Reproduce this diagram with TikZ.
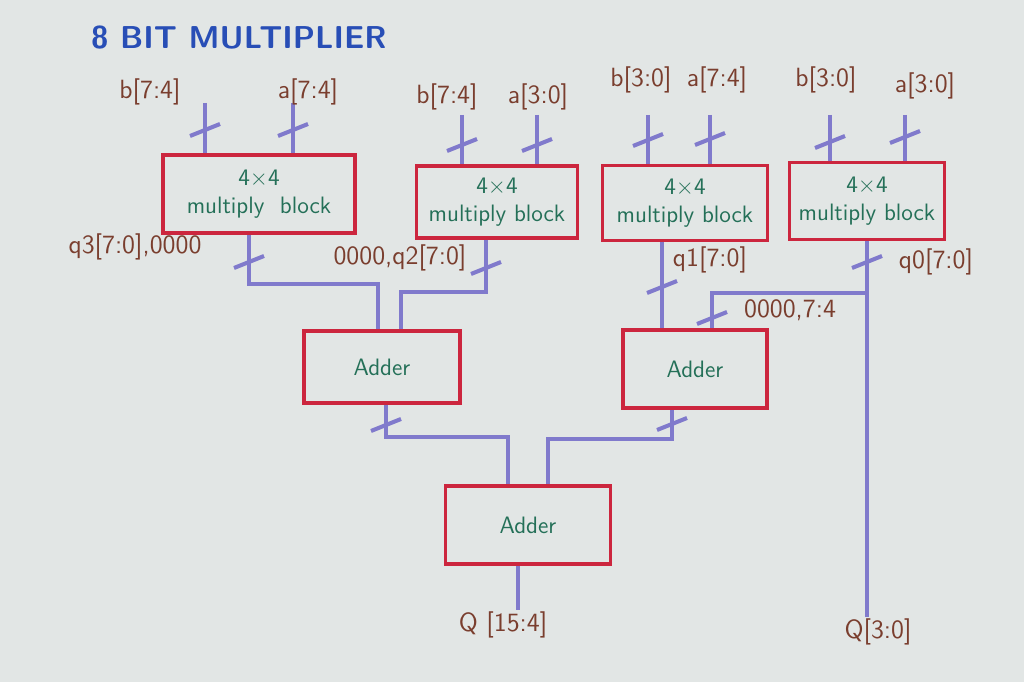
\documentclass[tikz,border=0pt]{standalone}
\usetikzlibrary{positioning}

\definecolor{paper}{RGB}{226,230,229}
\definecolor{boxred}{RGB}{204,38,62}
\definecolor{wireblue}{RGB}{128,122,204}
\definecolor{inkteal}{RGB}{36,112,88}
\definecolor{inkbrown}{RGB}{122,62,46}
\definecolor{titleblue}{RGB}{40,78,182}

\tikzset{
    block/.style={draw=boxred, line width=2.2pt, text=inkteal, font=\sffamily\fontsize{13.5}{16}\selectfont, align=center},
    wire/.style={draw=wireblue, line width=2.3pt},
    lbl/.style={text=inkbrown, font=\sffamily\fontsize{15}{17}\selectfont, inner sep=1pt},
}

\begin{document}
\begin{tikzpicture}
    \fill[paper] (0,0) rectangle (20.48,13.64);
    \useasboundingbox (0,0) rectangle (20.48,13.64);
    \node[text=titleblue, font=\sffamily\bfseries\fontsize{18}{20}\selectfont, anchor=west] (title) at (1.70,12.88) {8 BIT MULTIPLIER};
    % 4x4 乘法块
    \node[block, minimum width=3.84cm, minimum height=1.56cm] (m1) at (5.18,9.76) {4\texttimes4\\multiply\ \ block};
    \node[block, minimum width=3.22cm, minimum height=1.44cm] (m2) at (9.94,9.60) {4\texttimes4\\multiply block};
    \node[block, minimum width=3.30cm, minimum height=1.50cm] (m3) at (13.70,9.58) {4\texttimes4\\multiply block};
    \node[block, minimum width=3.10cm, minimum height=1.54cm] (m4) at (17.34,9.62) {4\texttimes4\\multiply block};
    % 加法器
    \node[block, minimum width=3.12cm, minimum height=1.44cm] (a1) at (7.64,6.30) {Adder};
    \node[block, minimum width=2.88cm, minimum height=1.56cm] (a2) at (13.90,6.26) {Adder};
    \node[block, minimum width=3.30cm, minimum height=1.56cm] (a3) at (10.56,3.14) {Adder};
    % 输入
    \foreach \n/\x/\y/\b in {ib1/4.10/11.58/m1, ia1/5.86/11.58/m1, ib2/9.24/11.34/m2, ia2/10.74/11.34/m2,
                             ib3/12.96/11.34/m3, ia3/14.20/11.34/m3, ib4/16.60/11.34/m4, ia4/18.10/11.34/m4} {
        \coordinate (\n) at (\x,\y);
        \draw[wire] (\n) -- (\n |- \b.north);
    }
    \node[lbl] (lb1) at (3.00,11.80) {b[7:4]};
    \node[lbl] (la1) at (6.16,11.80) {a[7:4]};
    \node[lbl] (lb2) at (8.94,11.70) {b[7:4]};
    \node[lbl] (la2) at (10.76,11.70) {a[3:0]};
    \node[lbl] (lb3) at (12.82,12.04) {b[3:0]};
    \node[lbl] (la3) at (14.34,12.04) {a[7:4]};
    \node[lbl] (lb4) at (16.52,12.04) {b[3:0]};
    \node[lbl] (la4) at (18.50,11.92) {a[3:0]};
    % 输出标签
    \node[lbl] (q3) at (2.70,8.70) {q3[7:0],0000};
    \node[lbl] (q2) at (8.00,8.48) {0000,q2[7:0]};
    \node[lbl] (q1) at (14.20,8.44) {q1[7:0]};
    \node[lbl] (q0) at (18.72,8.40) {q0[7:0]};
    \node[lbl] (q0s) at (15.80,7.44) {0000,7:4};
    \node[lbl] (qhi) at (10.06,1.14) {Q [15:4]};
    \node[lbl] (qlo) at (17.56,1.00) {Q[3:0]};
    % 连线
    \draw[wire] ([xshift=-2mm]m1.south) -- ++(0,-0.98) -| ([xshift=-0.8mm]a1.north);
    \draw[wire] ([xshift=-2.2mm]m2.south) -- ++(0,-1.04) -| ([xshift=3.8mm]a1.north);
    \draw[wire] ([xshift=-4.6mm]m3.south) -- ([xshift=-4.6mm]m3.south |- a2.north);
    \draw[wire] (m4.south) -- (m4.south |- qlo.north);
    \coordinate (tap) at (17.34,7.78);
    \draw[wire] (tap) -| ([xshift=3.4mm]a2.north);
    \draw[wire] ([xshift=0.8mm]a1.south) -- ++(0,-0.64) -| ([xshift=-4mm]a3.north);
    \draw[wire] ([xshift=-4.6mm]a2.south) -- ++(0,-0.58) -| ([xshift=4mm]a3.north);
    \draw[wire] ([xshift=-2mm]a3.south) -- ([xshift=-2mm]a3.south |- qhi.north);
    % 总线斜杠
    \foreach \p in {(4.10,11.04),(5.86,11.04),(9.24,10.74),(10.74,10.74),(12.96,10.84),(14.20,10.86),
                    (16.60,10.80),(18.10,10.90),(4.98,8.40),(9.72,8.28),(13.24,7.90),(17.34,8.40),
                    (14.24,7.28),(7.72,5.14),(13.44,5.16)}
        \draw[wire] \p ++(-0.3,-0.12) -- ++(0.6,0.24);
\end{tikzpicture}
\end{document}
